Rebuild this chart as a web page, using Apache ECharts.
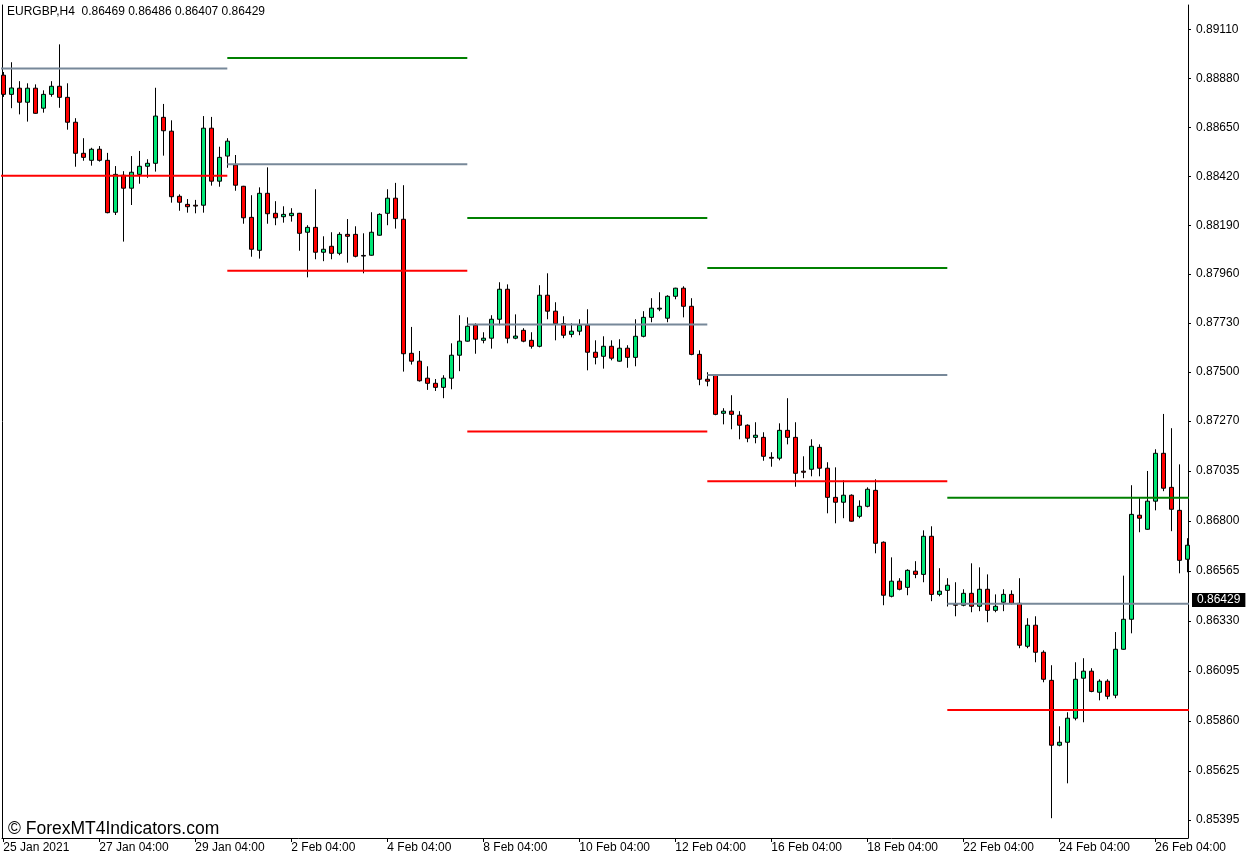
<!DOCTYPE html>
<html>
<head>
<meta charset="utf-8">
<script src="https://cdn.jsdelivr.net/npm/echarts@6/dist/echarts.min.js"></script>
<style>
html,body{margin:0;padding:0;background:#fff;}
#c{width:1252px;height:862px;}
</style>
</head>
<body>
<div id="c"></div>
<script>
// ---- data ----
const symbolName = 'EURGBP,H4';
const lastBar = [0.86469, 0.86486, 0.86407, 0.86429]; // O H L C of current bar
const bid = 0.86429;

const timeTickIndex = [0, 12, 24, 36, 48, 60, 72, 84, 96, 108, 120, 132, 144];
const timeTickLabels = ['25 Jan 2021', '27 Jan 04:00', '29 Jan 04:00', '2 Feb 04:00', '4 Feb 04:00',
  '8 Feb 04:00', '10 Feb 04:00', '12 Feb 04:00', '16 Feb 04:00', '18 Feb 04:00',
  '22 Feb 04:00', '24 Feb 04:00', '26 Feb 04:00'];

const priceTicks = [0.89110, 0.88880, 0.88650, 0.88420, 0.88190, 0.87960, 0.87730, 0.87500,
  0.87270, 0.87035, 0.86800, 0.86565, 0.86330, 0.86095, 0.85860, 0.85625, 0.85395];
const priceMin = 0.85310;
const priceMax = 0.89225;

const open = [
0.88895,0.88805,0.88834,0.88768,0.88834,0.88740,0.88805,0.88843,0.88791,0.88674,
0.88528,0.88495,0.88547,0.88495,0.88251,0.88425,0.88364,0.88429,0.88467,0.88481,
0.88697,0.88632,0.88326,0.88288,0.88284,0.88284,0.88646,0.88397,0.88515,0.88473,
0.88373,0.88227,0.88072,0.88340,0.88246,0.88230,0.88235,0.88246,0.88157,0.88180,
0.88063,0.88091,0.88058,0.88147,0.88147,0.88048,0.88049,0.88143,0.88246,0.88317,
0.88218,0.87588,0.87551,0.87471,0.87447,0.87428,0.87471,0.87579,0.87645,0.87720,
0.87649,0.87659,0.87748,0.87889,0.87659,0.87696,0.87649,0.87621,0.87861,0.87786,
0.87727,0.87677,0.87692,0.87720,0.87593,0.87574,0.87621,0.87551,0.87612,0.87569,
0.87668,0.87757,0.87796,0.87753,0.87856,0.87894,0.87809,0.87583,0.87466,0.87485,
0.87306,0.87316,0.87297,0.87250,0.87193,0.87193,0.87099,0.87095,0.87226,0.87193,
0.87034,0.87043,0.87146,0.87048,0.86911,0.86888,0.86921,0.86822,0.86869,0.86944,
0.86700,0.86446,0.86517,0.86488,0.86564,0.86549,0.86728,0.86455,0.86474,0.86408,
0.86404,0.86460,0.86399,0.86479,0.86380,0.86418,0.86455,0.86413,0.86211,0.86310,
0.86183,0.86051,0.85746,0.85760,0.85873,0.86061,0.86094,0.85995,0.86047,0.85981,
0.86197,0.86338,0.86827,0.86761,0.86893,0.87118,0.86958,0.86850,0.86620];
const high = [
0.88910,0.88956,0.88867,0.88857,0.88852,0.88824,0.88867,0.89040,0.88857,0.88693,
0.88599,0.88554,0.88562,0.88530,0.88468,0.88444,0.88515,0.88539,0.88500,0.88836,
0.88760,0.88683,0.88335,0.88313,0.88309,0.88703,0.88699,0.88559,0.88599,0.88520,
0.88375,0.88331,0.88368,0.88462,0.88303,0.88279,0.88270,0.88248,0.88190,0.88359,
0.88138,0.88157,0.88157,0.88219,0.88185,0.88152,0.88251,0.88246,0.88359,0.88389,
0.88378,0.87712,0.87599,0.87527,0.87467,0.87485,0.87635,0.87767,0.87757,0.87729,
0.87687,0.87767,0.87922,0.87912,0.87771,0.87706,0.87687,0.87908,0.87964,0.87828,
0.87762,0.87729,0.87748,0.87795,0.87649,0.87668,0.87649,0.87654,0.87626,0.87748,
0.87786,0.87847,0.87875,0.87861,0.87896,0.87903,0.87847,0.87602,0.87499,0.87487,
0.87330,0.87391,0.87316,0.87254,0.87264,0.87217,0.87123,0.87259,0.87377,0.87264,
0.87104,0.87184,0.87160,0.87076,0.87052,0.86991,0.86925,0.86897,0.86958,0.86996,
0.86704,0.86629,0.86531,0.86573,0.86611,0.86756,0.86775,0.86578,0.86531,0.86512,
0.86479,0.86601,0.86582,0.86549,0.86455,0.86479,0.86474,0.86531,0.86343,0.86352,
0.86192,0.86122,0.85835,0.85901,0.86136,0.86155,0.86108,0.86056,0.86056,0.86278,
0.86543,0.86968,0.86911,0.87035,0.87137,0.87303,0.87236,0.87066,0.86719];
const low = [
0.88793,0.88740,0.88711,0.88677,0.88714,0.88719,0.88794,0.88742,0.88639,0.88465,
0.88493,0.88470,0.88489,0.88246,0.88238,0.88113,0.88285,0.88385,0.88413,0.88442,
0.88517,0.88296,0.88258,0.88249,0.88246,0.88249,0.88376,0.88371,0.88460,0.88352,
0.88197,0.88042,0.88033,0.88197,0.88190,0.88202,0.88207,0.88070,0.87945,0.88030,
0.88021,0.88030,0.88049,0.88014,0.88039,0.87964,0.88047,0.88141,0.88190,0.88174,
0.87502,0.87535,0.87455,0.87416,0.87411,0.87377,0.87419,0.87504,0.87643,0.87586,
0.87635,0.87610,0.87720,0.87635,0.87654,0.87640,0.87610,0.87616,0.87748,0.87649,
0.87659,0.87663,0.87673,0.87508,0.87536,0.87516,0.87555,0.87549,0.87520,0.87527,
0.87663,0.87734,0.87786,0.87734,0.87842,0.87757,0.87579,0.87438,0.87433,0.87297,
0.87254,0.87231,0.87184,0.87170,0.87165,0.87083,0.87055,0.87085,0.87160,0.86961,
0.87001,0.87010,0.87010,0.86836,0.86789,0.86813,0.86797,0.86813,0.86864,0.86648,
0.86404,0.86441,0.86474,0.86451,0.86531,0.86512,0.86423,0.86446,0.86398,0.86352,
0.86399,0.86371,0.86376,0.86324,0.86371,0.86376,0.86408,0.86202,0.86202,0.86136,
0.86042,0.85403,0.85741,0.85567,0.85863,0.85854,0.85995,0.85957,0.85962,0.85967,
0.86195,0.86272,0.86747,0.86759,0.86850,0.86940,0.86752,0.86554,0.86559];
const close = [
0.88805,0.88835,0.88768,0.88834,0.88716,0.88805,0.88843,0.88791,0.88674,0.88528,
0.88509,0.88547,0.88495,0.88249,0.88429,0.88364,0.88439,0.88467,0.88481,0.88703,
0.88634,0.88324,0.88298,0.88277,0.88280,0.88646,0.88397,0.88509,0.88585,0.88378,
0.88225,0.88077,0.88340,0.88244,0.88225,0.88241,0.88246,0.88152,0.88180,0.88063,
0.88077,0.88058,0.88147,0.88138,0.88044,0.88045,0.88157,0.88241,0.88317,0.88221,
0.87586,0.87551,0.87459,0.87447,0.87428,0.87471,0.87579,0.87645,0.87715,0.87654,
0.87659,0.87748,0.87889,0.87659,0.87669,0.87645,0.87621,0.87861,0.87786,0.87727,
0.87673,0.87692,0.87720,0.87593,0.87569,0.87621,0.87565,0.87612,0.87569,0.87668,
0.87757,0.87800,0.87800,0.87856,0.87894,0.87809,0.87583,0.87466,0.87457,0.87301,
0.87316,0.87301,0.87250,0.87189,0.87203,0.87104,0.87095,0.87226,0.87193,0.87024,
0.87029,0.87151,0.87048,0.86911,0.86888,0.86921,0.86799,0.86869,0.86949,0.86695,
0.86451,0.86517,0.86479,0.86568,0.86549,0.86728,0.86455,0.86470,0.86498,0.86404,
0.86460,0.86399,0.86479,0.86380,0.86399,0.86455,0.86413,0.86216,0.86310,0.86183,
0.86056,0.85746,0.85760,0.85873,0.86056,0.86094,0.85999,0.86047,0.85976,0.86197,
0.86338,0.86831,0.86813,0.86893,0.87118,0.86954,0.86855,0.86615,0.86686];

// weekly level segments (bar index ranges) and their prices
const segStart = [-1, 28, 58, 88, 118];
const segEnd   = [28, 58, 88, 118, 150];
const levelGreen = [null, 0.88976, 0.88224, 0.87989, 0.86909];
const levelGray  = [0.88926, 0.88476, 0.87723, 0.87486, 0.86411];
const levelRed   = [0.88423, 0.87976, 0.87220, 0.86987, 0.85912];

// ---- chart ----
const FONT = 'Liberation Sans, Arial, sans-serif';
const candleData = open.map((o, i) => [i, o, close[i], low[i], high[i]]);

const levelSeries = [];
[['#008000', levelGreen], ['#778899', levelGray], ['#ff0000', levelRed]].forEach(([col, arr]) => {
  arr.forEach((v, k) => {
    if (v == null) return;
    levelSeries.push({
      type: 'line', data: [[segStart[k], v], [segEnd[k], v]],
      symbol: 'none', silent: true, animation: false, clip: true, z: 5,
      lineStyle: { color: col, width: 2 }
    });
  });
});

// current bid price marker (line invisible, label on the price axis)
const bidSeries = {
  type: 'line', data: [], silent: true, animation: false, clip: false, z: 10,
  markLine: {
    silent: true, symbol: 'none', animation: false, precision: 5,
    lineStyle: { color: 'rgba(0,0,0,0)', width: 1, type: 'solid' },
    label: {
      show: true, position: 'end', distance: 4,
      formatter: () => bid.toFixed(5),
      backgroundColor: '#000000', color: '#ffffff', fontSize: 12, fontFamily: FONT,
      padding: [1, 5, 1, 5], opacity: 1
    },
    emphasis: { disabled: true },
    data: [{ yAxis: bid }]
  }
};

const chart = echarts.init(document.getElementById('c'), null, { renderer: 'canvas' });
chart.setOption({
  animation: false,
  backgroundColor: '#ffffff',
  grid: { left: 2, right: 64, top: 5, bottom: 24, containLabel: false },
  xAxis: [{
    type: 'value', min: -0.1625, max: 148.0875,
    axisLine: { show: true, onZero: false, lineStyle: { color: '#000', width: 1 } },
    axisTick: { show: true, customValues: timeTickIndex, length: 4, lineStyle: { color: '#000' } },
    axisLabel: {
      customValues: timeTickIndex,
      formatter: v => timeTickLabels[timeTickIndex.indexOf(Math.round(v))] || '',
      align: 'left', margin: 4, color: '#000', fontSize: 12, fontFamily: FONT
    },
    splitLine: { show: false }
  }],
  yAxis: [{
    type: 'value', position: 'right', min: priceMin, max: priceMax, scale: true,
    axisLine: { show: true, onZero: false, lineStyle: { color: '#000', width: 1 } },
    axisTick: { show: true, customValues: priceTicks, length: 3, lineStyle: { color: '#000' } },
    axisLabel: {
      customValues: priceTicks, formatter: v => v.toFixed(5),
      margin: 8, color: '#000', fontSize: 12, fontFamily: FONT
    },
    splitLine: { show: false }
  }, {
    type: 'value', position: 'left', min: priceMin, max: priceMax, scale: true,
    axisLine: { show: true, onZero: false, lineStyle: { color: '#000', width: 1 } },
    axisTick: { show: false }, axisLabel: { show: false }, splitLine: { show: false }
  }],
  series: [{
    type: 'candlestick',
    data: candleData,
    encode: { x: 0, y: [1, 2, 3, 4] },
    barWidth: 5,
    clip: true,
    itemStyle: {
      color: '#00e676', color0: '#ff0000',
      borderColor: '#000000', borderColor0: '#000000', borderWidth: 1
    }
  }].concat(levelSeries, [bidSeries]),
  graphic: [{
    type: 'text', left: 7, top: 6, silent: true,
    style: {
      text: symbolName + '  ' + lastBar.map(v => v.toFixed(5)).join(' '),
      fontSize: 12, fontFamily: FONT, fill: '#000'
    }
  }, {
    type: 'text', left: 8, top: 820, silent: true,
    style: { text: '© ForexMT4Indicators.com', fontSize: 17.5, fontFamily: FONT, fill: '#000' }
  }]
});
</script>
</body>
</html>
